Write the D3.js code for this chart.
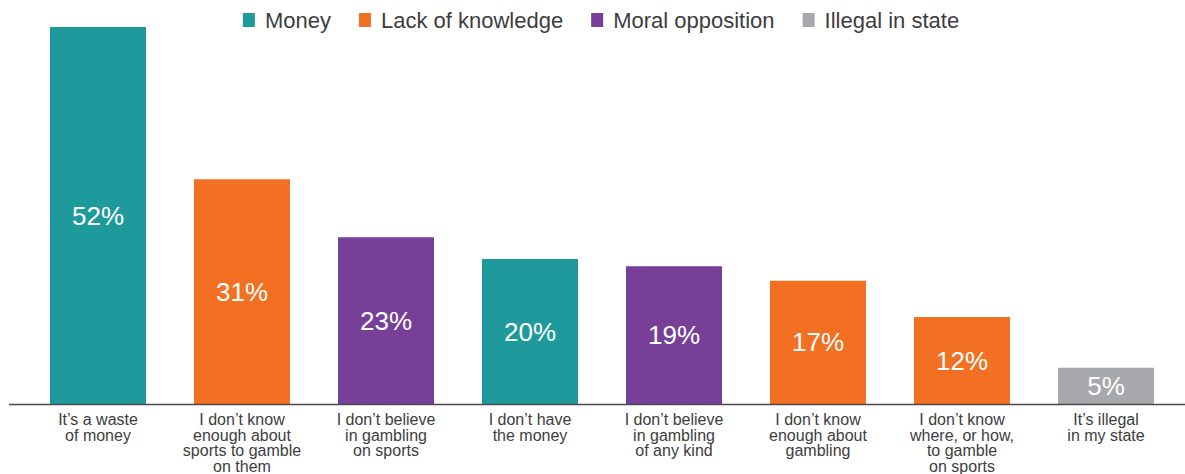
<!DOCTYPE html>
<html>
<head>
<meta charset="utf-8">
<script src="https://cdn.jsdelivr.net/npm/d3@7"></script>
<style>
  html, body { margin: 0; padding: 0; background: #ffffff; }
  svg { display: block; font-family: "Liberation Sans", Arial, Helvetica, sans-serif; }
</style>
</head>
<body>
<svg id="chart" width="1185" height="474"></svg>
<script>
// Reasons for not betting on sports, share of respondents (%)
const categories = [
  "It’s a waste\nof money",
  "I don’t know\nenough about\nsports to gamble\non them",
  "I don’t believe\nin gambling\non sports",
  "I don’t have\nthe money",
  "I don’t believe\nin gambling\nof any kind",
  "I don’t know\nenough about\ngambling",
  "I don’t know\nwhere, or how,\nto gamble\non sports",
  "It’s illegal\nin my state"
];
const values = [52, 31, 23, 20, 19, 17, 12, 5];
const groups = ["Money", "Lack of knowledge", "Moral opposition", "Money",
                "Moral opposition", "Lack of knowledge", "Lack of knowledge", "Illegal in state"];

const legendGroups = ["Money", "Lack of knowledge", "Moral opposition", "Illegal in state"];
const groupColors = ["#1f9a9c", "#f36f21", "#773f98", "#a7a8ab"];

const svg = d3.select("#chart");
const W = 1185, H = 474;
const baseY = 404;

const color = d3.scaleOrdinal().domain(legendGroups).range(groupColors);

const x = d3.scaleBand()
  .domain(categories)
  .range([26, 1178])
  .paddingInner(1 / 3)
  .paddingOuter(1 / 6);

const y = d3.scaleLinear()
  .domain([0, 52])
  .range([baseY, 27]);

const data = categories.map((c, i) => ({ cat: c, value: values[i], group: groups[i] }));

// Bars
svg.append("g")
  .selectAll("rect")
  .data(data)
  .join("rect")
  .attr("x", d => x(d.cat))
  .attr("y", d => y(d.value))
  .attr("width", x.bandwidth())
  .attr("height", d => y(0) - y(d.value))
  .attr("fill", d => color(d.group));

// Value labels centred in each bar
svg.append("g")
  .selectAll("text")
  .data(data)
  .join("text")
  .attr("x", d => x(d.cat) + x.bandwidth() / 2)
  .attr("y", d => (y(d.value) + y(0)) / 2 + 9)
  .attr("text-anchor", "middle")
  .attr("fill", "#ffffff")
  .attr("font-size", 26)
  .text(d => d.value + "%");

// Category axis
const axis = svg.append("g")
  .attr("transform", `translate(0,${baseY})`)
  .call(d3.axisBottom(x).tickSize(0).tickPadding(0));
axis.select(".domain").remove();
axis.selectAll(".tick text").each(function (d) {
  const t = d3.select(this);
  t.text(null)
    .attr("y", 0)
    .attr("dy", null)
    .attr("fill", "#3d3d3d")
    .attr("font-size", 16)
    .attr("font-family", "\"Liberation Sans\", Arial, sans-serif");
  d.split("\n").forEach((line, i) => {
    t.append("tspan")
      .attr("x", 0)
      .attr("y", 21 + i * 15.6)
      .text(line);
  });
});

// Baseline
svg.append("line")
  .attr("x1", 9)
  .attr("x2", W)
  .attr("y1", baseY + 0.5)
  .attr("y2", baseY + 0.5)
  .attr("stroke", "#4a4a4a")
  .attr("stroke-width", 1.5);

// Legend, centred horizontally across the top
const legend = svg.append("g").attr("class", "legend");
const items = legend.selectAll("g")
  .data(legendGroups)
  .join("g");
items.append("rect")
  .attr("y", 13)
  .attr("width", 12)
  .attr("height", 14)
  .attr("fill", d => color(d));
items.append("text")
  .attr("x", 22)
  .attr("y", 28)
  .attr("font-size", 22)
  .attr("fill", "#3d3d3d")
  .text(d => d);

let cursor = 0;
const gap = 28;
items.each(function () {
  const g = d3.select(this);
  const w = 22 + g.select("text").node().getComputedTextLength();
  g.attr("transform", `translate(${cursor},0)`);
  cursor += w + gap;
});
const totalW = cursor - gap;
legend.attr("transform", `translate(${601 - totalW / 2},0)`);
</script>
</body>
</html>
